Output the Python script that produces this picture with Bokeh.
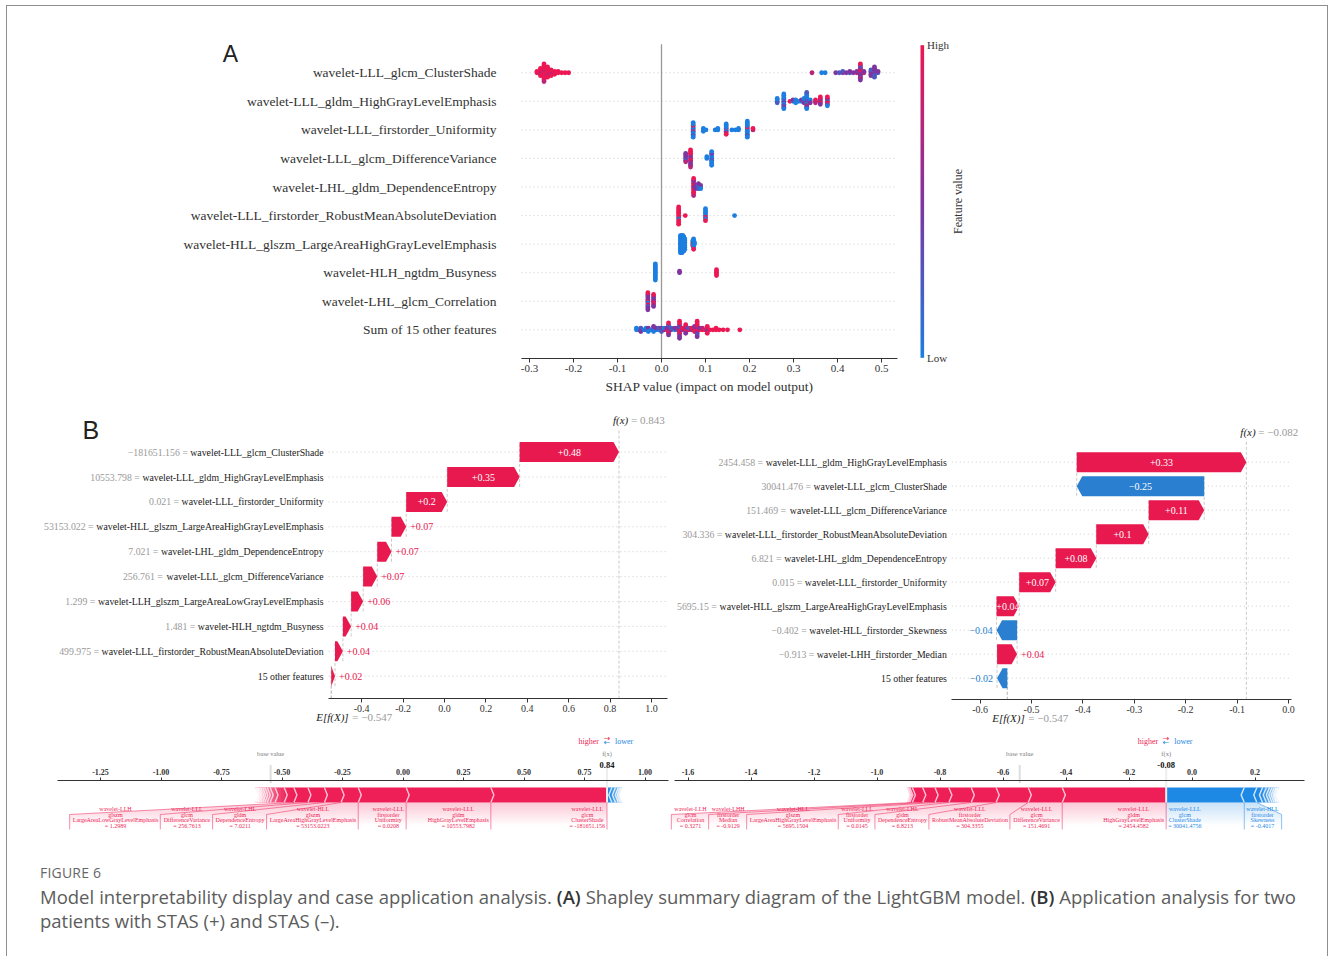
import re
import numpy as np
from decimal import Decimal, ROUND_HALF_UP
from bokeh.plotting import figure
from bokeh.models import (Range1d, LinearAxis, FixedTicker, PrintfTickFormatter,
                          ColumnDataSource, LinearColorMapper, Div)
from bokeh.layouts import column, row
from bokeh.embed import file_html
from bokeh.resources import INLINE
from bokeh.core.properties import value

# ============================ DATA ============================
# ---- Panel A : SHAP summary (beeswarm) ----
summary_features = [
    "wavelet-LLL_glcm_ClusterShade",
    "wavelet-LLL_gldm_HighGrayLevelEmphasis",
    "wavelet-LLL_firstorder_Uniformity",
    "wavelet-LLL_glcm_DifferenceVariance",
    "wavelet-LHL_gldm_DependenceEntropy",
    "wavelet-LLL_firstorder_RobustMeanAbsoluteDeviation",
    "wavelet-HLL_glszm_LargeAreaHighGrayLevelEmphasis",
    "wavelet-HLH_ngtdm_Busyness",
    "wavelet-LHL_glcm_Correlation",
    "Sum of 15 other features",
]
summary_ticks = [-0.3, -0.2, -0.1, 0.0, 0.1, 0.2, 0.3, 0.4, 0.5]

# (SHAP value, feature value of each sample sitting at that SHAP value)
# codes: B = low, b, P = middle, r, R = high
swarm_cluster_shade = [
    (-0.283, "RR"), (-0.275, "RRrRRR"), (-0.267, "RRRrRRRRRRRRr"), (-0.259, "RRRRrRRR"),
    (-0.251, "RRrRR"), (-0.243, "RRR"), (-0.235, "RR"), (-0.227, "R"), (-0.219, "R"), (-0.211, "R"),
    (0.342, "r"), (0.364, "B"), (0.372, "B"), (0.396, "P"), (0.404, "b"), (0.412, "Pb"),
    (0.420, "P"), (0.428, "bP"), (0.436, "P"), (0.444, "rP"), (0.452, "PrPRPrPPrbPR"),
    (0.460, "rP"), (0.476, "bPPbP"), (0.484, "PbPPbPbP"), (0.492, "bP"),
]
swarm_high_gray = [
    (0.263, "BBbB"), (0.278, "BBPbBBbBPBB"), (0.292, "R"), (0.299, "BP"), (0.305, "bBB"),
    (0.312, "B"), (0.318, "BP"), (0.324, "BbPB"), (0.330, "BBPbBBrBPBBb"), (0.338, "bBP"),
    (0.350, "RRr"), (0.361, "rPRrPR"), (0.377, "RBRPrRB"),
]
swarm_uniformity = [
    (0.072, "BBrBBRBBbBB"), (0.095, "BBB"), (0.101, "B"), (0.122, "B"), (0.128, "BB"),
    (0.147, "BRBBrBRB"), (0.160, "B"), (0.168, "B"), (0.175, "BB"), (0.195, "BBBRBBBBbBBB"),
    (0.208, "rR"),
]
swarm_difference_variance = [
    (0.055, "PPbPrP"), (0.066, "rPRPrRPRPRr"), (0.103, "BB"), (0.114, "BBbBBPBBB"),
]
swarm_dependence_entropy = [
    (0.073, "RrPRRrRPRRr"), (0.078, "rPP"), (0.084, "PBbP"), (0.089, "BPB"),
]
swarm_robust_mad = [
    (0.039, "RRRRBRRRRRR"), (0.054, "R"), (0.100, "BBRBBBRB"), (0.166, "B"),
]
swarm_large_area = [
    (0.043, "BBBBBBBBBBB"), (0.045, "BBBBBBBBBBB"), (0.047, "BBBBBBBBBBB"),
    (0.049, "BBBBBBBBBB"), (0.051, "BBBBBBBBB"), (0.053, "BBBBBBB"),
    (0.071, "BBRB"), (0.073, "BRBBBBR"), (0.075, "BB"),
]
swarm_busyness = [(-0.014, "BBBBBBBBBBBB"), (0.041, "PP"), (0.125, "RRRRR")]
swarm_correlation = [(-0.031, "PRBPRPbPPRP"), (-0.018, "PPRPrPPR")]
swarm_other = [
    (-0.057, "BB"), (-0.052, "B"), (-0.047, "PbP"), (-0.040, "B"), (-0.035, "bB"),
    (-0.030, "BPB"), (-0.024, "B"), (-0.018, "PbBP"), (-0.012, "BP"), (-0.006, "Bb"),
    (0.000, "BPb"), (0.006, "PB"), (0.012, "RP"), (0.016, "RPrPRbPR"), (0.022, "Pb"),
    (0.030, "BP"), (0.036, "bP"), (0.041, "RPRbRPrRPRP"), (0.047, "PR"), (0.055, "RPRrPR"),
    (0.062, "Rb"), (0.068, "PR"), (0.075, "RrRP"), (0.081, "RPRrPRbRPR"), (0.087, "RP"),
    (0.093, "Rr"), (0.099, "R"), (0.104, "RrPRR"), (0.110, "R"), (0.117, "R"), (0.124, "RR"),
    (0.131, "R"), (0.140, "R"), (0.150, "R"), (0.178, "R"),
]

# ---- Panel B : two patients ----
base_value = -0.547

# patient 1 (STAS +)
wf1_features = [
    "wavelet-LLL_glcm_ClusterShade",
    "wavelet-LLL_gldm_HighGrayLevelEmphasis",
    "wavelet-LLL_firstorder_Uniformity",
    "wavelet-HLL_glszm_LargeAreaHighGrayLevelEmphasis",
    "wavelet-LHL_gldm_DependenceEntropy",
    "wavelet-LLL_glcm_DifferenceVariance",
    "wavelet-LLH_glszm_LargeAreaLowGrayLevelEmphasis",
    "wavelet-HLH_ngtdm_Busyness",
    "wavelet-LLL_firstorder_RobustMeanAbsoluteDeviation",
]
wf1_feature_values = [-181651.156, 10553.7982, 0.0208, 53153.0223, 7.0211, 256.7613, 1.2989, 1.481, 499.975]
wf1_shap = [0.480, 0.350, 0.198, 0.071, 0.069, 0.068, 0.058, 0.040, 0.038]
wf1_other_shap = [0.020, 0.012, 0.010, 0.009, 0.008, 0.007, 0.005, 0.004, 0.002, 0.002,
                  -0.020, -0.015, -0.012, -0.008, -0.006]
wf1_ticks = [-0.4, -0.2, 0.0, 0.2, 0.4, 0.6, 0.8, 1.0]
force1_ticks = [-1.25, -1.0, -0.75, -0.5, -0.25, 0.0, 0.25, 0.5, 0.75, 1.0]

# patient 2 (STAS -)
wf2_features = [
    "wavelet-LLL_gldm_HighGrayLevelEmphasis",
    "wavelet-LLL_glcm_ClusterShade",
    "wavelet-LLL_glcm_DifferenceVariance",
    "wavelet-LLL_firstorder_RobustMeanAbsoluteDeviation",
    "wavelet-LHL_gldm_DependenceEntropy",
    "wavelet-LLL_firstorder_Uniformity",
    "wavelet-HLL_glszm_LargeAreaHighGrayLevelEmphasis",
    "wavelet-HLL_firstorder_Skewness",
    "wavelet-LHH_firstorder_Median",
]
wf2_feature_values = [2454.4582, 30041.4756, 151.4691, 304.3355, 6.8213, 0.0145, 5695.1504, -0.4017, -0.9129]
wf2_shap = [0.330, -0.248, 0.108, 0.102, 0.079, 0.071, 0.044, -0.040, 0.039]
wf2_other_features = ["wavelet-LLH_glcm_Correlation"]
wf2_other_feature_values = [0.3271]
wf2_other_shap = [0.033, 0.008, 0.004, 0.002, 0.001, 0.001,
                  -0.018, -0.012, -0.010, -0.008, -0.007, -0.006, -0.004, -0.002, -0.002]
wf2_ticks = [-0.6, -0.5, -0.4, -0.3, -0.2, -0.1, 0.0]
force2_ticks = [-1.6, -1.4, -1.2, -1.0, -0.8, -0.6, -0.4, -0.2, 0.0, 0.2]

caption_title = "FIGURE 6"
caption_line1 = ("Model interpretability display and case application analysis. <b>(A)</b> Shapley summary "
                 "diagram of the LightGBM model. <b>(B)</b> Application analysis for two")
caption_line2 = "patients with STAS (+) and STAS (\u2013)."

# ============================ STYLE ============================
SERIF = "Liberation Serif"
SANS = "Liberation Sans"
INK = "#333333"
WF_RED, WF_BLUE = "#e8194f", "#2a7fd0"
FP_RED, FP_BLUE = "#ee1f57", "#1e88e5"
FP_RED_L, FP_BLUE_L = "#ffc3d5", "#d1e6fa"
CODE = {"B": 0.0, "b": 0.25, "P": 0.5, "r": 0.75, "R": 1.0}

_low, _mid, _high = (28, 126, 224), (128, 52, 160), (236, 24, 84)
palette = []
for i in range(256):
    t = i / 255.0
    a, b, u = (_low, _mid, t * 2) if t < 0.5 else (_mid, _high, (t - 0.5) * 2)
    palette.append("#%02x%02x%02x" % tuple(int(round(x + (y - x) * u)) for x, y in zip(a, b)))
mapper = LinearColorMapper(palette=palette, low=0, high=1)

# Times / Liberation Serif advance widths (per 1000 em)
_w = {c: 500 for c in "0123456789"}
_w.update(dict(zip("ABCDEFGHIJKLMNOPQRSTUVWXYZ",
                   [722, 667, 667, 722, 611, 556, 722, 722, 333, 389, 722, 611, 889, 722, 722, 556, 722,
                    667, 556, 611, 722, 722, 944, 722, 722, 611])))
_w.update(dict(zip("abcdefghijklmnopqrstuvwxyz",
                   [444, 500, 444, 500, 444, 333, 500, 500, 278, 278, 500, 278, 778, 500, 500, 500, 500,
                    333, 389, 278, 500, 500, 722, 500, 500, 444])))
_w.update({" ": 250, "-": 333, "_": 500, ".": 250, "=": 564, "(": 333, ")": 333, "+": 564,
           "\u2212": 564, "[": 333, "]": 333})


def text_w(s, size):
    return sum(_w.get(c, 500) for c in s) * size / 1000.0


def fmt_fixed(v, nd):
    q = Decimal(repr(float(v))).quantize(Decimal(1).scaleb(-nd), rounding=ROUND_HALF_UP)
    s = format(q, "f")
    if "." in s:
        s = s.rstrip("0").rstrip(".")
    return s


def fmt_wf(v):
    return fmt_fixed(v, 3).replace("-", "\u2212")


def fmt_signed(v):
    return re.sub(r"\.?0+$", "", "%+0.2f" % v).replace("-", "\u2212")


def xr_px(p_lo, p_hi, zero_px, ppu):
    return Range1d((p_lo - zero_px) / ppu, (p_hi - zero_px) / ppu)


def yr_px(p_top, p_bot, ref_px, step):
    return Range1d((ref_px - p_bot) / step, (ref_px - p_top) / step)


def make_fig(w, h, xr, yr):
    p = figure(width=w, height=h, x_range=xr, y_range=yr, min_border=0, title=None,
               toolbar_location=None, output_backend="svg",
               x_axis_location=None, y_axis_location=None, outline_line_color=None,
               background_fill_color="white", border_fill_color="white")
    p.xgrid.grid_line_color = None
    p.ygrid.grid_line_color = None
    p.xgrid.visible = False
    p.ygrid.visible = False
    return p


def swarm_offsets(vals, row_height=0.4, nbins=100):
    vals = np.asarray(vals, dtype=float)
    quant = np.round(nbins * (vals - vals.min()) / (vals.max() - vals.min() + 1e-8))
    inds = np.argsort(quant, kind="stable")
    ys = np.zeros(len(vals))
    layer, last = 0, None
    for ind in inds:
        if quant[ind] != last:
            layer = 0
        ys[ind] = np.ceil(layer / 2) * ((layer % 2) * 2 - 1)
        layer += 1
        last = quant[ind]
    return ys * 0.9 * (row_height / np.max(ys + 1))


# ============================ PANEL A ============================
A_ZERO, A_PPU, A_ROW0, A_STEP = 661.0, 440.0, 329.3, 28.56
pA = make_fig(900, 394, xr_px(7, 907, A_ZERO, A_PPU), yr_px(6, 400, A_ROW0, A_STEP))
nA = len(summary_features)
rows_r = [nA - 1 - i for i in range(nA)]
XMIN_A, XMAX_A = -0.318, 0.536
pA.segment(x0=[XMIN_A] * nA, x1=[XMAX_A] * nA, y0=rows_r, y1=rows_r,
           line_color="#cccccc", line_width=1, line_dash="1 3")
pA.segment(x0=[0], x1=[0], y0=[-1], y1=[nA], line_color="#999999", line_width=1.3)

swarm_rows = [swarm_cluster_shade, swarm_high_gray, swarm_uniformity, swarm_difference_variance,
              swarm_dependence_entropy, swarm_robust_mad, swarm_large_area, swarm_busyness,
              swarm_correlation, swarm_other]
sx, sy, sfv = [], [], []
for i, clusters in enumerate(swarm_rows):
    vals = [v for v, codes in clusters for _ in codes]
    fv = [CODE[c] for v, codes in clusters for c in codes]
    off = swarm_offsets(vals)
    sx += vals
    sy += list(rows_r[i] + off)
    sfv += fv
pA.scatter("x", "y", source=ColumnDataSource(dict(x=sx, y=sy, fv=sfv)), size=4.8,
           fill_color={"field": "fv", "transform": mapper}, line_color=None)

axA = LinearAxis(fixed_location=-1, bounds=(XMIN_A, XMAX_A), ticker=FixedTicker(ticks=summary_ticks),
                 formatter=PrintfTickFormatter(format="%.1f"), axis_line_color=INK,
                 major_tick_line_color=INK, major_tick_out=4, major_tick_in=0,
                 minor_tick_line_color=None, major_label_text_font=SERIF,
                 major_label_text_font_size="11px", major_label_text_color=INK,
                 major_label_standoff=3)
pA.add_layout(axA, "below")
ayA = LinearAxis(fixed_location=XMIN_A, ticker=FixedTicker(ticks=rows_r),
                 major_label_overrides={rows_r[i]: summary_features[i] for i in range(nA)},
                 axis_line_color=None, major_tick_line_color=None, minor_tick_line_color=None,
                 major_tick_out=0, major_tick_in=0,
                 major_label_text_font=SERIF, major_label_text_font_size="13.5px",
                 major_label_text_color=INK, major_label_standoff=25)
pA.add_layout(ayA, "left")
pA.text(x=[(XMIN_A + XMAX_A) / 2], y=[(A_ROW0 - 386) / A_STEP],
        text=["SHAP value (impact on model output)"], text_align="center", text_baseline="middle",
        text_font=value(SERIF), text_font_size="13.5px", text_color=INK)
pA.text(x=[(230 - A_ZERO) / A_PPU], y=[(A_ROW0 - 53) / A_STEP], text=["A"], text_align="center",
        text_baseline="middle", text_font=value(SANS), text_font_size="23px", text_color="#222222")

# colour bar
pCB = make_fig(420, 394, Range1d(0, 420), yr_px(6, 400, 357.3, 312.6))
pCB.image(image=[np.linspace(0, 1, 256).reshape(256, 1)], x=13, y=0, dw=3.6, dh=1, color_mapper=mapper)
pCB.text(x=[19.5, 19.5], y=[1, 0], text=["High", "Low"], text_align="left", text_baseline="middle",
         text_font=value(SERIF), text_font_size="11px", text_color=INK)
pCB.text(x=[50], y=[0.5], text=["Feature value"], angle=np.pi / 2, text_align="center",
         text_baseline="middle", text_font=value(SERIF), text_font_size="12px", text_color=INK)


# ============================ WATERFALLS ============================
WF_FS = 9.8


def draw_waterfall(p, names, fvals, shaps, other_shaps, ticks, bounds, ppu, row_step):
    n = len(names) + 1
    row_names = list(names) + ["%d other features" % len(other_shaps)]
    row_vals = list(shaps) + [float(sum(other_shaps))]
    fx = base_value + sum(row_vals)
    axis_r, top_r = -0.9, n - 0.05
    rr = list(range(n))
    p.segment(x0=[bounds[0]] * n, x1=[bounds[1]] * n, y0=rr, y1=rr,
              line_color="#cccccc", line_width=1, line_dash="1 3")
    half = 10.0 / row_step
    head_len = 5.5 / ppu
    loc = base_value
    bx, by, bc = [], [], []
    cx0, cy0, cy1 = [], [], []
    tin = dict(x=[], y=[], t=[])
    tpos = dict(x=[], y=[], t=[])
    tneg = dict(x=[], y=[], t=[])
    for i in range(n - 1, -1, -1):
        v = row_vals[i]
        r = n - 1 - i
        s, e = loc, loc + v
        loc = e
        d = 1.0 if v >= 0 else -1.0
        hd = min(abs(v), head_len)
        bx.append([s, e - d * hd, e, e - d * hd, s])
        by.append([r - half, r - half, r, r + half, r + half])
        bc.append(WF_RED if v >= 0 else WF_BLUE)
        cx0.append(s)
        cy0.append(max(r - 1.4, axis_r))
        cy1.append(r + 0.4)
        lab = fmt_signed(v)
        if abs(v) * ppu >= 22:
            tin["x"].append((s + e) / 2); tin["y"].append(r); tin["t"].append(lab)
        else:
            dd = tpos if v >= 0 else tneg
            dd["x"].append(e); dd["y"].append(r); dd["t"].append(lab)
    p.segment(x0=cx0, x1=cx0, y0=cy0, y1=cy1, line_color="#bbbbbb", line_width=0.8, line_dash="3 2")
    p.segment(x0=[fx, base_value], x1=[fx, base_value], y0=[axis_r, axis_r],
              y1=[top_r, axis_r + (top_r - axis_r) / n], line_color="#bbbbbb", line_width=0.8,
              line_dash="3 2")
    p.patches(bx, by, fill_color=bc, line_color=None)
    common = dict(text_baseline="middle", text_font=value(SERIF), text_font_size="10px")
    p.text(x="x", y="y", text="t", source=ColumnDataSource(tin), text_color="white",
           text_align="center", **common)
    p.text(x="x", y="y", text="t", source=ColumnDataSource(tpos), text_color=WF_RED,
           text_align="left", x_offset=4, **common)
    p.text(x="x", y="y", text="t", source=ColumnDataSource(tneg), text_color=WF_BLUE,
           text_align="right", x_offset=-4, **common)
    # feature labels
    lab_style = dict(text_baseline="middle", text_font=value(SERIF), text_font_size="%spx" % WF_FS)
    ys = [n - 1 - i for i in range(n)]
    p.text(x=[bounds[0]] * n, y=ys, text=row_names, x_offset=-5, text_align="right",
           text_color="#1a1a1a", **lab_style)
    gx = dict(x=[bounds[0]] * len(names), y=ys[:len(names)],
              t=[fmt_wf(v) + " =" for v in fvals],
              o=[-(5 + text_w(nm, WF_FS) + 0.25 * WF_FS) for nm in names])
    p.text(x="x", y="y", text="t", x_offset="o", source=ColumnDataSource(gx), text_align="right",
           text_color="#999999", **lab_style)
    # f(x) and E[f(X)]
    lab11 = dict(text_baseline="middle", text_font=value(SERIF), text_font_size="11px",
                 text_align="left")
    p.text(x=[fx], y=[n + 0.27], text=["f(x)"], x_offset=-6, text_font_style="italic",
           text_color="#222222", **lab11)
    p.text(x=[fx], y=[n + 0.27], text=["= " + fmt_wf(fx)], x_offset=12, text_color="#999999", **lab11)
    p.text(x=[base_value], y=[axis_r - 0.75], text=["E[f(X)]"], x_offset=-15,
           text_font_style="italic", text_color="#222222", **lab11)
    p.text(x=[base_value], y=[axis_r - 0.75], text=["= " + fmt_wf(base_value)], x_offset=21,
           text_color="#999999", **lab11)
    ax = LinearAxis(fixed_location=axis_r, bounds=bounds, ticker=FixedTicker(ticks=ticks),
                    formatter=PrintfTickFormatter(format="%.1f"), axis_line_color=INK,
                    major_tick_line_color=INK, major_tick_out=4, major_tick_in=0,
                    minor_tick_line_color=None, major_label_text_font=SERIF,
                    major_label_text_font_size="10px", major_label_text_color=INK,
                    major_label_standoff=2)
    p.add_layout(ax, "below")
    return fx


WL = dict(zero=444.0, ppu=207.0, row0=675.7, step=24.9)
WR = dict(zero=1288.0, ppu=514.0, row0=677.7, step=24.0)
pWL = make_fig(665, 325, xr_px(7, 672, WL["zero"], WL["ppu"]), yr_px(400, 725, WL["row0"], WL["step"]))
pWR = make_fig(655, 325, xr_px(672, 1327, WR["zero"], WR["ppu"]), yr_px(400, 725, WR["row0"], WR["step"]))
draw_waterfall(pWL, wf1_features, wf1_feature_values, wf1_shap, wf1_other_shap, wf1_ticks,
               (-0.56, 1.075), WL["ppu"], WL["step"])
draw_waterfall(pWR, wf2_features, wf2_feature_values, wf2_shap, wf2_other_shap, wf2_ticks,
               (-0.655, 0.005), WR["ppu"], WR["step"])
pWL.text(x=[(82 - WL["zero"]) / WL["ppu"]], y=[(WL["row0"] - 429) / WL["step"]], text=["B"],
         text_align="left", text_baseline="middle", text_font=value(SANS), text_font_size="25px",
         text_color="#222222")


# ============================ FORCE PLOTS ============================
def draw_force(p, feats, ppu, ticks, bounds, tick_fmt, min_perc=0.0275):
    out = base_value + sum(f[0] for f in feats)
    pos = sorted([f for f in feats if f[0] > 0], key=lambda f: -f[0])
    neg = sorted([f for f in feats if f[0] < 0], key=lambda f: f[0])
    total = sum(abs(f[0]) for f in feats)
    wsep = (bounds[1] - bounds[0]) / 200.0
    wb = 0.1
    pos_b = [out - c for c in np.cumsum([f[0] for f in pos])]
    neg_b = [out + c for c in np.cumsum([-f[0] for f in neg])]
    fs, lp = 6.0, 5.6 / 150.0
    off, pad = 2.0 / ppu, 1.0 / ppu

    def layout(items, bnds, kind):
        sign = 1.0 if kind == "pos" else -1.0
        start, pre, box_end = out, out, out
        lx, ly, tx, ty, tt = [], [], [], [], []
        if kind == "pos":
            lx.append([out, out]); ly.append([0, -0.18])
        for f, b in zip(items, bnds):
            if f[1] is None or abs(f[0]) / total < min_perc:
                break
            lines = f[1].split("_") + ["= " + f[2]]
            w = max(text_w(s, fs) for s in lines) / ppu
            anchor = start - sign * off
            cxm = anchor - sign * w / 2
            for k, s in enumerate(lines):
                tx.append(cxm); ty.append(-0.155 + (len(lines) - 1 - k) * lp); tt.append(s)
            be = anchor - sign * (w + pad)
            if sign * be > sign * b:
                lx.append([b, b]); ly.append([0, -0.18]); start = b; box_end = b
            else:
                box_end = be - sign * off
                lx.append([b, box_end, box_end]); ly.append([0, -0.08, -0.18]); start = box_end
            pre = b
        return dict(pre=pre, box_end=box_end, lx=lx, ly=ly, tx=tx, ty=ty, tt=tt)

    Lpos = layout(pos, pos_b, "pos")
    Lneg = layout(neg, neg_b, "neg")

    def bars(bnds, kind, col, lcol):
        xs, ys, spx, spy = [], [], [], []
        prev = out
        for k, b in enumerate(bnds):
            if kind == "pos":
                l, r_, ind, sep = b, prev, wsep, b
            else:
                l, r_, ind, sep = prev, b, -wsep, b
            if k == 0:
                if kind == "pos":
                    pts = [(l, 0), (r_, 0), (r_, wb), (l, wb), (l + ind, wb / 2)]
                else:
                    pts = [(r_, 0), (l, 0), (l, wb), (r_, wb), (r_ + ind, wb / 2)]
            else:
                pts = [(l, 0), (r_, 0), (r_ + ind * 0.9, wb / 2), (r_, wb), (l, wb),
                       (l + ind * 0.9, wb / 2)]
            xs.append([q[0] for q in pts]); ys.append([q[1] for q in pts])
            spx.append([sep, sep + ind, sep]); spy.append([0, wb / 2, wb])
            prev = b
        if xs:
            p.patches(xs, ys, fill_color=col, line_color=None)
            p.multi_line(spx, spy, line_color=lcol, line_width=1.4)

    bars(neg_b, "neg", FP_BLUE, FP_BLUE_L)
    bars(pos_b, "pos", FP_RED, FP_RED_L)

    # fade the unlabelled tails
    for L, bnds in ((Lpos, pos_b), (Lneg, neg_b)):
        if not bnds:
            continue
        pre, end = L["pre"], bnds[-1]
        if abs(end - pre) < 1e-9:
            continue
        NT = 12
        lefts, rights, alphas = [], [], []
        for k in range(NT):
            a = pre + (end - pre) * k / NT
            b = pre + (end - pre) * (k + 1) / NT
            lefts.append(min(a, b)); rights.append(max(a, b))
            alphas.append(0.85 * ((k + 1) / NT) ** 2)
        p.quad(left=lefts, right=rights, bottom=0, top=wb, fill_color="white",
               fill_alpha=alphas, line_color=None)

    # label shading, connector lines and texts
    for L, col in ((Lneg, FP_BLUE), (Lpos, FP_RED)):
        pre, be = L["pre"], L["box_end"]
        if pre != out:
            NB = 14
            pxs, pys, pal = [], [], []

            def xl(y):
                return pre + (be - pre) * (y / -0.08) if y > -0.08 else be
            for k in range(NB):
                ya, yb = -0.155 * k / NB, -0.155 * (k + 1) / NB
                xx, yy = [out, xl(ya)], [ya, ya]
                if yb < -0.08 < ya:
                    xx.append(be); yy.append(-0.08)
                xx += [xl(yb), out]; yy += [yb, yb]
                pxs.append(xx); pys.append(yy); pal.append(0.25 * (1 - (k + 0.5) / NB))
            p.patches(pxs, pys, fill_color=col, fill_alpha=pal, line_color=None)
        if L["lx"]:
            p.multi_line(L["lx"], L["ly"], line_color=col, line_alpha=0.5, line_width=1)
        p.text(x=L["tx"], y=L["ty"], text=L["tt"], text_align="center", text_baseline="alphabetic",
               text_font=value(SERIF), text_font_size="%spx" % fs, text_color=col)

    # higher / lower legend
    hoff = 8.0 / ppu
    small = dict(text_baseline="alphabetic", text_font=value(SERIF), text_font_size="8px")
    p.text(x=[out - hoff], y=[0.405], text=["higher"], text_align="right", text_color=FP_RED, **small)
    p.text(x=[out + hoff], y=[0.405], text=["lower"], text_align="left", text_color=FP_BLUE, **small)
    arr = dict(text_baseline="alphabetic", text_font=value("DejaVu Sans"), text_font_size="8px",
               text_align="center")
    p.text(x=[out], y=[0.428], text=["\u2192"], text_color=FP_RED, **arr)
    p.text(x=[out], y=[0.400], text=["\u2190"], text_color=FP_BLUE, **arr)
    # base value / output
    p.segment(x0=[base_value], x1=[base_value], y0=[0.13], y1=[0.25], line_color="#dddddd", line_width=2)
    p.segment(x0=[out], x1=[out], y0=[0], y1=[0.24], line_color="#eeeeee", line_width=2)
    gray = dict(text_baseline="alphabetic", text_font=value(SERIF), text_font_size="6.5px",
                text_align="center", text_color="#808080")
    p.text(x=[base_value], y=[0.33], text=["base value"], **gray)
    p.text(x=[out], y=[0.33], text=["f(x)"], **gray)
    p.text(x=[out], y=[0.25], text=["%.2f" % out], text_align="center", text_baseline="alphabetic",
           text_font=value(SERIF), text_font_size="8.5px", text_font_style="bold", text_color="#111111")
    ax = LinearAxis(fixed_location=0.15, bounds=bounds, ticker=FixedTicker(ticks=ticks),
                    formatter=PrintfTickFormatter(format=tick_fmt), axis_line_color=INK,
                    major_tick_line_color=INK, major_tick_out=3, major_tick_in=0,
                    minor_tick_line_color=None, major_label_text_font=SERIF,
                    major_label_text_font_size="8px", major_label_text_font_style="bold",
                    major_label_text_color=INK, major_label_standoff=2)
    p.add_layout(ax, "above")


F_Y0, F_STEP = 802.0, 150.0
F_SPLIT = 669
pFL = make_fig(F_SPLIT - 7, 120, xr_px(7, F_SPLIT, 402.5, 242.0), yr_px(725, 845, F_Y0, F_STEP))
pFR = make_fig(1327 - F_SPLIT, 120, xr_px(F_SPLIT, 1327, 1191.5, 315.0), yr_px(725, 845, F_Y0, F_STEP))

feats1 = [(s, nm, fmt_fixed(v, 4)) for s, nm, v in zip(wf1_shap, wf1_features, wf1_feature_values)]
feats1 += [(s, None, None) for s in wf1_other_shap]
feats2 = [(s, nm, fmt_fixed(v, 4)) for s, nm, v in zip(wf2_shap, wf2_features, wf2_feature_values)]
feats2 += [(wf2_other_shap[0], wf2_other_features[0], fmt_fixed(wf2_other_feature_values[0], 4))]
feats2 += [(s, None, None) for s in wf2_other_shap[1:]]
draw_force(pFL, feats1, 242.0, force1_ticks, (-1.429, 1.097), "%.2f")
draw_force(pFR, feats2, 315.0, force2_ticks, (-1.643, 0.357), "%.1f")

# ============================ CAPTION ============================
CAP_FONT = "'Open Sans', 'Noto Sans', sans-serif"
cap_html = (
    '<div style="position:relative;width:1320px;height:120px;font-family:' + CAP_FONT + ';">'
    '<div style="position:absolute;left:33px;top:20px;font-size:14px;line-height:16px;'
    'letter-spacing:0.2px;color:#666666;">' + caption_title + '</div>'
    '<div style="position:absolute;left:33px;top:40px;width:1256px;font-size:18.5px;line-height:24px;'
    'color:#5c5c5c;text-align:justify;text-align-last:justify;white-space:nowrap;">'
    + caption_line1.replace("<b>", '<span style="color:#333;font-weight:600">').replace("</b>", "</span>")
    + '</div>'
    '<div style="position:absolute;left:33px;top:64px;font-size:18.5px;line-height:24px;color:#5c5c5c;'
    'white-space:nowrap;">' + caption_line2 + '</div></div>'
)
cap = Div(text=cap_html, width=1320, height=120, margin=(0, 0, 0, 0))

page = column(row(pA, pCB), row(pWL, pWR), row(pFL, pFR), cap,
              margin=(6, 0, 0, 7), styles={"outline": "1px solid #8e8e8e"})
open("out.html", "w").write(file_html(page, INLINE))
